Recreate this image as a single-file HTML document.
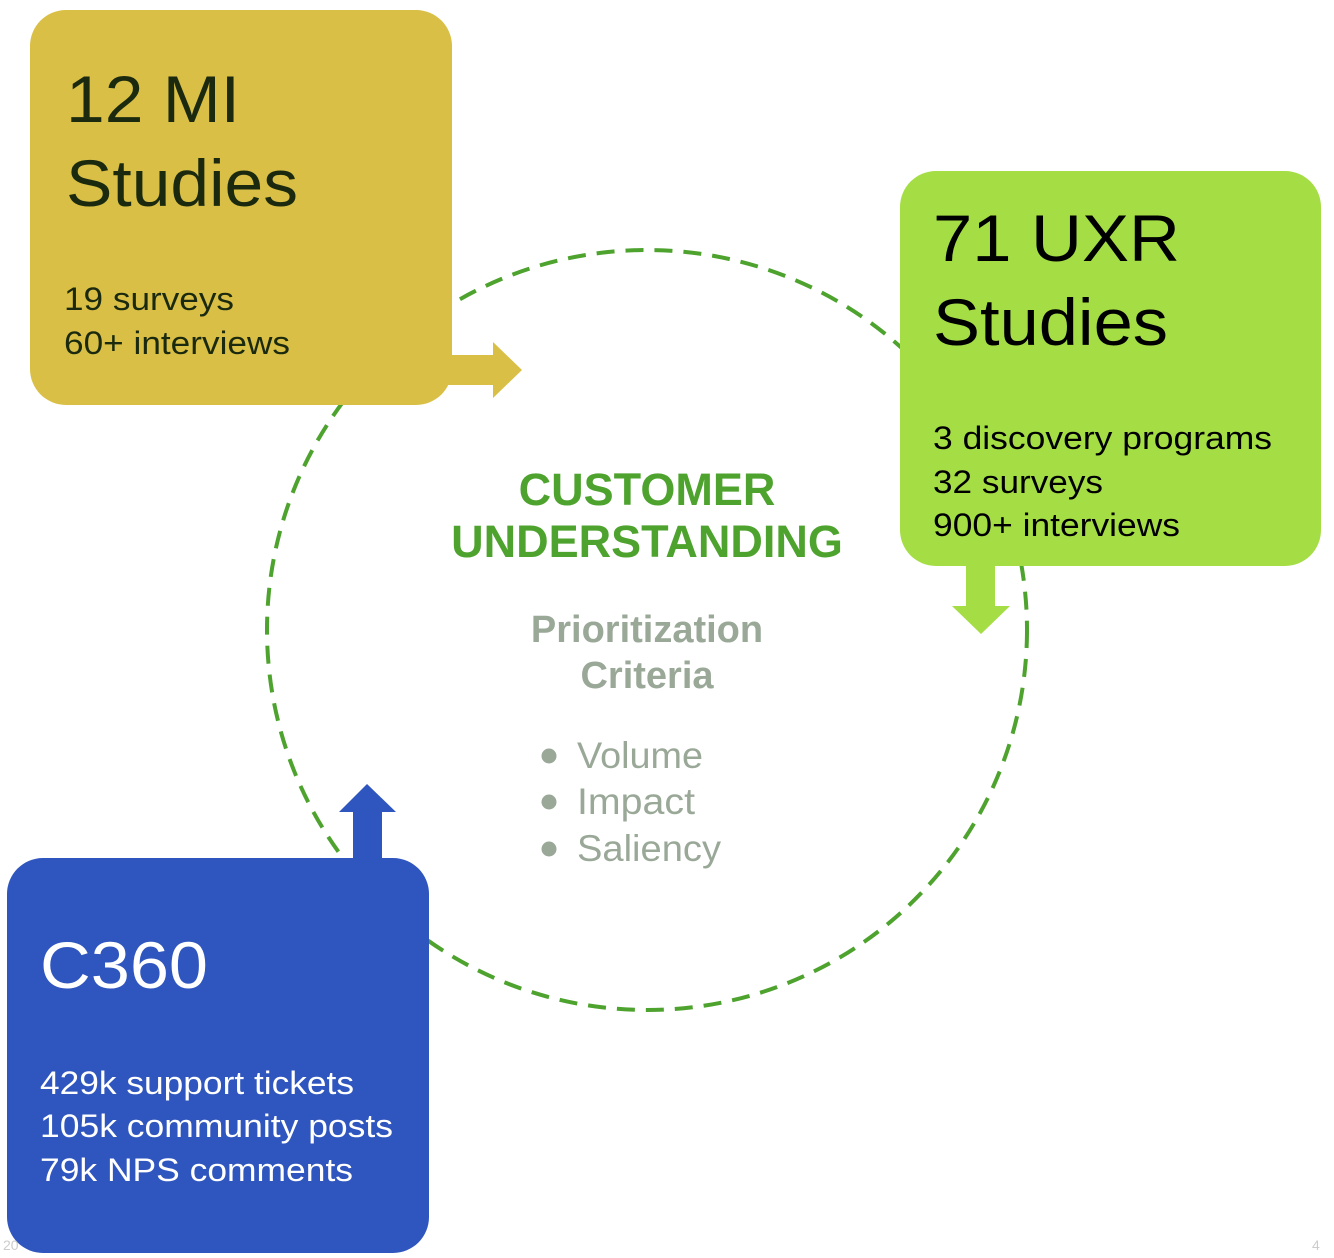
<!DOCTYPE html>
<html><head><meta charset="utf-8"><style>
html,body{margin:0;padding:0;background:#fff;width:1334px;height:1258px;overflow:hidden;font-family:"Liberation Sans",sans-serif}
svg{position:absolute;left:0;top:0}
</style></head><body>
<svg width="1334" height="1258" viewBox="0 0 1334 1258">
<circle cx="647" cy="630" r="380" fill="none" stroke="#4EA32E" stroke-width="4" stroke-dasharray="18 11"/>
<rect x="30" y="10" width="422" height="395" rx="36" fill="#D9BF45"/>
<polygon points="440,355 493,355 493,342 522,370 493,398 493,385 440,385" fill="#D9BF45"/>
<rect x="900" y="171" width="421" height="395" rx="36" fill="#A5DD45"/>
<polygon points="966,560 995,560 995,606 1010,606 981,634 952,606 966,606" fill="#A5DD45"/>
<rect x="7" y="858" width="422" height="395" rx="36" fill="#2F55BE"/>
<polygon points="353,866 353,812 339,812 367,784 396,812 382,812 382,866" fill="#2F55BE"/>

<g font-family="Liberation Sans, sans-serif" lengthAdjust="spacingAndGlyphs">
<text x="66" y="122" font-size="66" fill="#1B2A0E" textLength="174" lengthAdjust="spacingAndGlyphs">12 MI</text>
<text x="66" y="206" font-size="66" fill="#1B2A0E" textLength="232" lengthAdjust="spacingAndGlyphs">Studies</text>
<text x="64" y="310" font-size="32" fill="#1B2A0E" textLength="170" lengthAdjust="spacingAndGlyphs">19 surveys</text>
<text x="64" y="354" font-size="32" fill="#1B2A0E" textLength="226" lengthAdjust="spacingAndGlyphs">60+ interviews</text>

<text x="933" y="261" font-size="66" fill="#000" textLength="247" lengthAdjust="spacingAndGlyphs">71 UXR</text>
<text x="933" y="345" font-size="66" fill="#000" textLength="235" lengthAdjust="spacingAndGlyphs">Studies</text>
<text x="933" y="449" font-size="32" fill="#000" textLength="339" lengthAdjust="spacingAndGlyphs">3 discovery programs</text>
<text x="933" y="493" font-size="32" fill="#000" textLength="170" lengthAdjust="spacingAndGlyphs">32 surveys</text>
<text x="933" y="536" font-size="32" fill="#000" textLength="247" lengthAdjust="spacingAndGlyphs">900+ interviews</text>

<text x="40" y="988" font-size="66" fill="#fff" textLength="168" lengthAdjust="spacingAndGlyphs">C360</text>
<text x="40" y="1094" font-size="32" fill="#fff" textLength="314" lengthAdjust="spacingAndGlyphs">429k support tickets</text>
<text x="40" y="1137" font-size="32" fill="#fff" textLength="353" lengthAdjust="spacingAndGlyphs">105k community posts</text>
<text x="40" y="1181" font-size="32" fill="#fff" textLength="313" lengthAdjust="spacingAndGlyphs">79k NPS comments</text>

<text x="647" y="505" font-size="45" font-weight="bold" fill="#4EA32E" text-anchor="middle">CUSTOMER</text>
<text x="647" y="557" font-size="45" font-weight="bold" fill="#4EA32E" text-anchor="middle">UNDERSTANDING</text>
<text x="647" y="642" font-size="38" font-weight="bold" fill="#9AA898" text-anchor="middle">Prioritization</text>
<text x="647" y="688" font-size="38" font-weight="bold" fill="#9AA898" text-anchor="middle">Criteria</text>
<circle cx="549" cy="756" r="7.5" fill="#9AA898"/>
<circle cx="549" cy="802" r="7.5" fill="#9AA898"/>
<circle cx="549" cy="849" r="7.5" fill="#9AA898"/>
<text x="577" y="768" font-size="37" fill="#9AA898" textLength="126" lengthAdjust="spacingAndGlyphs">Volume</text>
<text x="577" y="814" font-size="37" fill="#9AA898" textLength="118" lengthAdjust="spacingAndGlyphs">Impact</text>
<text x="577" y="861" font-size="37" fill="#9AA898" textLength="144" lengthAdjust="spacingAndGlyphs">Saliency</text>
<text x="3" y="1250" font-size="14" fill="#ccc">20</text>
<text x="1312" y="1250" font-size="14" fill="#ccc">4</text>
</g>
</svg>
</body></html>
